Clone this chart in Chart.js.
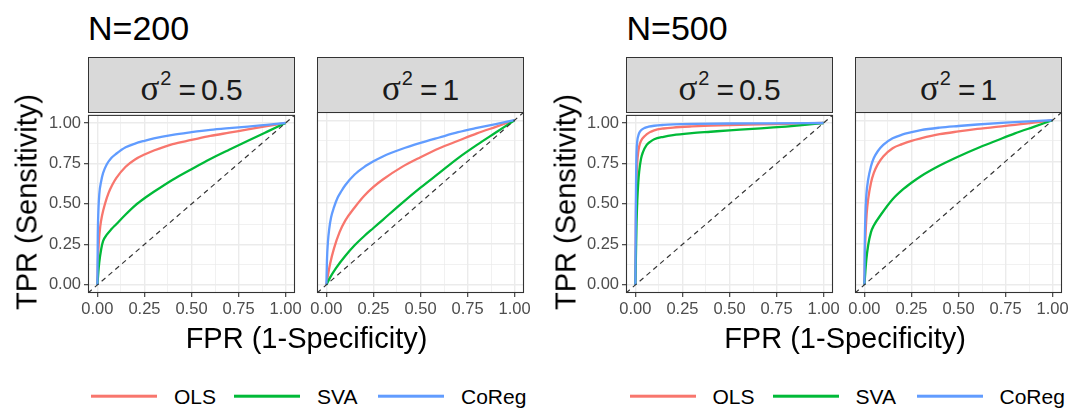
<!DOCTYPE html>
<html><head><meta charset="utf-8">
<script src="https://cdn.jsdelivr.net/npm/chart.js@4.4.1/dist/chart.umd.min.js"></script>
<style>
html,body{margin:0;padding:0;background:#fff;}
body{width:1070px;height:409px;position:relative;overflow:hidden;font-family:"Liberation Sans",Arial,sans-serif;}
.abs{position:absolute;}
.title{font-size:34px;line-height:34px;color:#000;white-space:nowrap;}
.strip{background:#d9d9d9;border:1px solid #333;box-sizing:border-box;}
.stext{font-size:30px;line-height:30px;color:#1a1a1a;text-align:center;white-space:nowrap;}
.stext .sig{font-family:"Liberation Serif","DejaVu Serif",serif;font-size:35px;line-height:0;}
.stext .sup{font-size:20px;line-height:0;position:relative;top:-15px;margin-left:1px;}
.stext .eq{margin:0 5px 0 7px;}
.axt{font-size:29px;line-height:29px;color:#000;white-space:nowrap;transform:translate(-50%,-50%);}
.axty{transform:translate(-50%,-50%) rotate(-90deg);}
.lg{font-size:21px;line-height:21px;color:#000;white-space:nowrap;transform:translateY(-50%);}
.lkey{height:2.6px;transform:translateY(-50%);}
canvas{position:absolute;}
</style>
</head><body>
<script>
// ---------------- DATA ----------------
const seriesNames = ['OLS', 'SVA', 'CoReg'];
const groupTitles = ['N=200', 'N=500'];
const facetValues = ['0.5', '1'];
const tickValues = [0, 0.25, 0.5, 0.75, 1];
const tickLabels = ['0.00', '0.25', '0.50', '0.75', '1.00'];
const minorValues = [0.125, 0.375, 0.625, 0.875];
const diagX = [-0.05, 1.05];
const diagY = [-0.05, 1.05];

// N=200, sigma^2 = 0.5
const n200s05_ols_fpr = [0,0.003,0.008,0.015,0.025,0.04,0.06,0.08,0.1,0.15,0.2,0.25,0.3,0.4,0.5,0.6,0.7,0.8,0.9,1];
const n200s05_ols_tpr = [0,0.15,0.27,0.36,0.43,0.5,0.57,0.62,0.66,0.73,0.775,0.805,0.83,0.87,0.895,0.92,0.94,0.96,0.98,1];
const n200s05_sva_fpr = [0,0.005,0.01,0.02,0.03,0.05,0.075,0.1,0.15,0.2,0.25,0.3,0.4,0.5,0.6,0.7,0.8,0.9,1];
const n200s05_sva_tpr = [0,0.08,0.14,0.22,0.27,0.31,0.345,0.375,0.435,0.49,0.535,0.575,0.65,0.715,0.778,0.835,0.89,0.945,1];
const n200s05_coreg_fpr = [0,0.002,0.005,0.01,0.02,0.03,0.05,0.075,0.1,0.15,0.2,0.25,0.3,0.4,0.5,0.6,0.7,0.8,0.9,1];
const n200s05_coreg_tpr = [0,0.3,0.45,0.56,0.64,0.69,0.745,0.785,0.81,0.85,0.873,0.89,0.905,0.927,0.943,0.957,0.968,0.978,0.989,1];

// N=200, sigma^2 = 1
const n200s1_ols_fpr = [0,0.01,0.02,0.04,0.07,0.1,0.15,0.2,0.25,0.3,0.4,0.5,0.6,0.7,0.8,0.9,1];
const n200s1_ols_tpr = [0,0.07,0.13,0.22,0.32,0.39,0.47,0.54,0.595,0.64,0.715,0.775,0.83,0.875,0.92,0.96,1];
const n200s1_sva_fpr = [0,0.02,0.05,0.1,0.15,0.2,0.25,0.3,0.4,0.5,0.6,0.7,0.8,0.9,1];
const n200s1_sva_tpr = [0,0.045,0.1,0.175,0.24,0.295,0.345,0.395,0.495,0.59,0.68,0.77,0.85,0.925,1];
const n200s1_coreg_fpr = [0,0.003,0.008,0.015,0.025,0.04,0.06,0.08,0.1,0.15,0.2,0.25,0.3,0.4,0.5,0.6,0.7,0.8,0.9,1];
const n200s1_coreg_tpr = [0,0.15,0.26,0.34,0.41,0.47,0.53,0.57,0.605,0.67,0.715,0.75,0.78,0.825,0.862,0.895,0.927,0.953,0.977,1];

// N=500, sigma^2 = 0.5
const n500s05_ols_fpr = [0,0.002,0.004,0.007,0.01,0.015,0.02,0.03,0.05,0.075,0.1,0.15,0.2,0.3,0.4,0.6,0.8,1];
const n500s05_ols_tpr = [0,0.35,0.55,0.68,0.76,0.82,0.855,0.89,0.92,0.942,0.955,0.966,0.972,0.979,0.984,0.99,0.995,1];
const n500s05_sva_fpr = [0,0.003,0.006,0.01,0.015,0.02,0.03,0.04,0.06,0.08,0.1,0.15,0.2,0.3,0.4,0.5,0.6,0.7,0.8,0.9,1];
const n500s05_sva_tpr = [0,0.2,0.38,0.52,0.63,0.7,0.78,0.82,0.865,0.885,0.9,0.915,0.925,0.937,0.946,0.955,0.962,0.97,0.978,0.988,1];
const n500s05_coreg_fpr = [0,0.002,0.004,0.006,0.01,0.015,0.02,0.03,0.05,0.07,0.1,0.15,0.2,0.3,0.5,0.7,1];
const n500s05_coreg_tpr = [0,0.45,0.7,0.82,0.89,0.92,0.938,0.955,0.97,0.977,0.983,0.988,0.991,0.994,0.997,0.998,1];

// N=500, sigma^2 = 1
const n500s1_ols_fpr = [0,0.003,0.007,0.012,0.02,0.035,0.05,0.07,0.1,0.15,0.2,0.25,0.3,0.4,0.5,0.6,0.75,0.9,1];
const n500s1_ols_tpr = [0,0.2,0.33,0.43,0.52,0.62,0.68,0.73,0.78,0.83,0.855,0.875,0.89,0.915,0.932,0.947,0.966,0.985,1];
const n500s1_sva_fpr = [0,0.005,0.01,0.02,0.035,0.05,0.09,0.15,0.2,0.25,0.3,0.4,0.5,0.6,0.7,0.8,0.9,1];
const n500s1_sva_tpr = [0,0.08,0.15,0.24,0.32,0.36,0.43,0.52,0.575,0.62,0.66,0.725,0.78,0.83,0.875,0.92,0.96,1];
const n500s1_coreg_fpr = [0,0.002,0.005,0.01,0.02,0.035,0.05,0.07,0.1,0.15,0.2,0.25,0.3,0.4,0.5,0.6,0.75,0.9,1];
const n500s1_coreg_tpr = [0,0.25,0.42,0.54,0.64,0.72,0.77,0.81,0.85,0.89,0.912,0.927,0.94,0.955,0.965,0.974,0.985,0.994,1];

// ---------------- STYLE / LAYOUT ----------------
const seriesColors = ['#F8766D', '#00BA38', '#619CFF'];
const panelLefts = [88, 317, 626, 855];
const PANEL_W = 207, PLOT_TOP = 112, PLOT_H = 181, STRIP_TOP = 57;
const Y_AXIS_W = 50, X_AXIS_H = 30;
const groupOffset = 538.5;

const panelCurves = [
  [[n200s05_ols_fpr, n200s05_ols_tpr], [n200s05_sva_fpr, n200s05_sva_tpr], [n200s05_coreg_fpr, n200s05_coreg_tpr]],
  [[n200s1_ols_fpr, n200s1_ols_tpr], [n200s1_sva_fpr, n200s1_sva_tpr], [n200s1_coreg_fpr, n200s1_coreg_tpr]],
  [[n500s05_ols_fpr, n500s05_ols_tpr], [n500s05_sva_fpr, n500s05_sva_tpr], [n500s05_coreg_fpr, n500s05_coreg_tpr]],
  [[n500s1_ols_fpr, n500s1_ols_tpr], [n500s1_sva_fpr, n500s1_sva_tpr], [n500s1_coreg_fpr, n500s1_coreg_tpr]]
];

function el(cls, css, html) {
  const d = document.createElement('div');
  d.className = 'abs ' + cls;
  Object.assign(d.style, css);
  d.innerHTML = html;
  document.body.appendChild(d);
  return d;
}

const allGrid = tickValues.concat(minorValues).sort((a, b) => a - b);
const isMajor = v => tickValues.some(t => Math.abs(t - v) < 1e-9);
const labelFor = v => { const i = tickValues.findIndex(t => Math.abs(t - v) < 1e-9); return i >= 0 ? tickLabels[i] : ''; };

const borderPlugin = {
  id: 'panelBorder',
  afterDraw(chart) {
    const { ctx, chartArea: a } = chart;
    ctx.save();
    ctx.strokeStyle = '#333333';
    ctx.lineWidth = 1.1;
    ctx.strokeRect(a.left + 0.5, a.top + 0.5, a.right - a.left - 1, a.bottom - a.top - 1);
    ctx.restore();
  }
};

function scaleCfg(axis, showLabels) {
  return {
    type: 'linear',
    min: -0.05, max: 1.05,
    afterBuildTicks: s => { s.ticks = allGrid.map(v => ({ value: v })); },
    afterFit: s => {
      if (axis === 'x') s.height = X_AXIS_H;
      else s.width = showLabels ? Y_AXIS_W : 0;
    },
    border: { display: false },
    grid: {
      color: '#EBEBEB',
      lineWidth: c => (c.tick && isMajor(c.tick.value)) ? 1.4 : 0.7,
      drawTicks: showLabels,
      tickLength: 4,
      tickWidth: 1.1,
      tickColor: c => (c.tick && isMajor(c.tick.value)) ? '#333333' : 'rgba(0,0,0,0)'
    },
    ticks: {
      display: showLabels,
      autoSkip: false,
      maxRotation: 0,
      minRotation: 0,
      padding: 3,
      color: '#4D4D4D',
      font: { family: 'Liberation Sans', size: 16.5 },
      callback: v => labelFor(v)
    }
  };
}

panelLefts.forEach((pl, i) => {
  const showY = (i % 2 === 0);
  const leftPad = showY ? Y_AXIS_W : 12;
  const cv = document.createElement('canvas');
  const W = leftPad + PANEL_W + 14, H = 10 + PLOT_H + X_AXIS_H;
  cv.width = W; cv.height = H;
  cv.style.left = (pl - leftPad) + 'px';
  cv.style.top = (PLOT_TOP - 10) + 'px';
  cv.style.width = W + 'px'; cv.style.height = H + 'px';
  document.body.appendChild(cv);

  const datasets = panelCurves[i].map((c, k) => ({
    label: seriesNames[k],
    data: c[0].map((x, j) => ({ x: x, y: c[1][j] })),
    showLine: true,
    borderColor: seriesColors[k],
    backgroundColor: seriesColors[k],
    borderWidth: 2.3,
    pointRadius: 0,
    cubicInterpolationMode: 'monotone',
    order: 3 - k
  }));
  datasets.push({
    label: 'diag',
    data: diagX.map((x, j) => ({ x: x, y: diagY[j] })),
    showLine: true,
    borderColor: '#333333',
    borderWidth: 1.15,
    borderDash: [5, 4],
    pointRadius: 0,
    order: 0
  });

  new Chart(cv.getContext('2d'), {
    type: 'scatter',
    data: { datasets },
    options: {
      responsive: false,
      animation: false,
      devicePixelRatio: 1,
      layout: { padding: { left: showY ? 0 : 12, right: 14, top: 10, bottom: 0 } },
      plugins: { legend: { display: false }, tooltip: { enabled: false } },
      scales: { x: scaleCfg('x', true), y: scaleCfg('y', showY) }
    },
    plugins: [borderPlugin]
  });

  // strip
  el('strip', { left: pl + 'px', top: STRIP_TOP + 'px', width: PANEL_W + 'px', height: (PLOT_TOP - STRIP_TOP + 1) + 'px' }, '');
  el('stext', { left: pl + 'px', top: (100 - 25.4) + 'px', width: PANEL_W + 'px' },
    '<span class="sig">σ</span><span class="sup">2</span><span class="eq">=</span>' + facetValues[i % 2]);
});

// group titles, axis titles, legends
groupTitles.forEach((t, g) => {
  const off = g * groupOffset;
  el('title', { left: (88 + off) + 'px', top: '10.7px' }, t);
  el('axt', { left: (306.5 + off) + 'px', top: '338px' }, 'FPR (1-Specificity)');
  el('axt axty', { left: (27 + off) + 'px', top: '202px' }, 'TPR (Sensitivity)');
  const keyStarts = [91, 234, 378];
  seriesNames.forEach((s, k) => {
    el('lkey', { left: (keyStarts[k] + off) + 'px', top: '396px', width: '66px', background: seriesColors[k] }, '');
    el('lg', { left: (keyStarts[k] + 83 + off) + 'px', top: '396px' }, s);
  });
});
</script>
</body></html>
